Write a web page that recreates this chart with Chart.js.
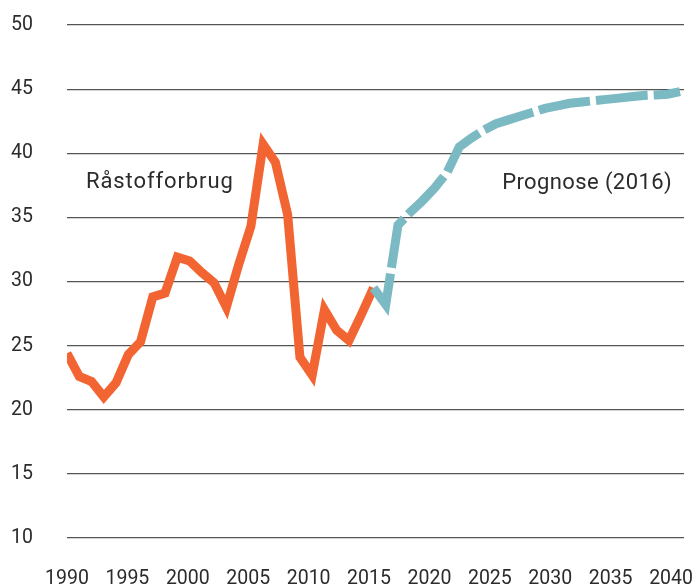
<!DOCTYPE html>
<html>
<head>
<meta charset="utf-8">
<script src="https://cdn.jsdelivr.net/npm/chart.js@4"></script>
<style>
  body { margin: 0; background: #fff; }
  canvas { display: block; }
</style>
</head>
<body>
<canvas id="grafik" width="696" height="586"></canvas>
<script>
// historisk forbrug 1990-2015 og prognose 2015-2040
const aarHistorik = [1990, 1991, 1992, 1993, 1994, 1995, 1996, 1997, 1998, 1999,
  2000, 2001, 2002, 2003, 2004, 2005, 2006, 2007, 2008, 2009,
  2010, 2011, 2012, 2013, 2014, 2015];
const forbrug = [24.4, 22.6, 22.2, 21.0, 22.1, 24.3, 25.3, 28.8, 29.1, 31.9,
  31.6, 30.7, 29.9, 28.0, 31.3, 34.3, 40.7, 39.3, 35.2, 24.1,
  22.7, 27.8, 26.2, 25.4, 27.4, 29.5];

const aarPrognose = [2015, 2016, 2017, 2018, 2019, 2020, 2021, 2022, 2023, 2024,
  2025, 2026, 2027, 2028, 2029, 2030, 2031, 2032, 2033, 2034,
  2035, 2036, 2037, 2038, 2039, 2040];
const prognose = [29.5, 28.2, 34.4, 35.4, 36.3, 37.3, 38.5, 40.5, 41.2, 41.8,
  42.3, 42.6, 42.9, 43.2, 43.5, 43.7, 43.9, 44.0, 44.1, 44.2,
  44.3, 44.4, 44.5, 44.55, 44.6, 44.8];

const yTicks = [10, 15, 20, 25, 30, 35, 40, 45, 50];
const xTicks = [1990, 1995, 2000, 2005, 2010, 2015, 2020, 2025, 2030, 2035, 2040];
const etiketter = ["Råstofforbrug", "Prognose (2016)"];

const tekstFarve = "#2b2b2b";
const fontNavn = "Roboto";

function punkter(aar, vaerdier) {
  return aar.map((a, i) => ({ x: a, y: vaerdier[i] }));
}

// tekster inde i grafen
const etiketPlugin = {
  id: "etiketter",
  afterDraw(chart) {
    const ctx = chart.ctx;
    const xs = chart.scales.xd;
    const ys = chart.scales.y;
    ctx.save();
    ctx.font = "22px " + fontNavn;
    ctx.fillStyle = tekstFarve;
    ctx.textBaseline = "alphabetic";
    ctx.letterSpacing = "0.9px";
    ctx.textAlign = "left";
    ctx.fillText(etiketter[0], xs.getPixelForValue(1991.55), ys.getPixelForValue(37.3));
    ctx.letterSpacing = "0.4px";
    ctx.textAlign = "right";
    ctx.fillText(etiketter[1], xs.getPixelForValue(2039.35), ys.getPixelForValue(37.2));
    ctx.restore();
  }
};

const config = {
  type: "line",
  data: {
    datasets: [
      {
        label: etiketter[0],
        data: punkter(aarHistorik, forbrug),
        xAxisID: "xd",
        borderColor: "#F26532",
        borderWidth: 9,
        pointRadius: 0,
        tension: 0,
        order: 2
      },
      {
        label: etiketter[1],
        data: punkter(aarPrognose, prognose),
        xAxisID: "xd",
        borderColor: "#7BBAC3",
        borderWidth: 9,
        borderDash: [52, 6],
        pointRadius: 0,
        tension: 0,
        order: 1
      }
    ]
  },
  options: {
    responsive: false,
    animation: false,
    layout: { padding: { left: 0, right: 12, top: 25, bottom: 0 } },
    plugins: { legend: { display: false }, tooltip: { enabled: false } },
    scales: {
      x: {
        type: "linear",
        position: "bottom",
        min: 1990,
        max: 2041.07,
        grid: { display: false, drawTicks: false },
        border: { display: false },
        afterBuildTicks: (s) => { s.ticks = xTicks.map(v => ({ value: v })); },
        afterFit: (s) => { s.height = 48; s.paddingLeft = 0; s.paddingRight = 0; },
        ticks: {
          padding: 29,
          maxRotation: 0,
          autoSkip: false,
          color: tekstFarve,
          font: { family: fontNavn, size: 19.5 },
          callback: (v) => String(v)
        }
      },
      xd: {
        type: "linear",
        position: "bottom",
        display: false,
        min: 1990,
        max: 2040.33,
        afterFit: (s) => { s.height = 0; s.paddingLeft = 0; s.paddingRight = 0; }
      },
      y: {
        min: 10,
        max: 50,
        afterBuildTicks: (s) => { s.ticks = yTicks.map(v => ({ value: v })); },
        afterFit: (s) => { s.width = 67; s.paddingTop = 0; s.paddingBottom = 0; },
        grid: { color: "#555", lineWidth: 1.2, drawTicks: false },
        border: { display: false },
        ticks: {
          padding: 34,
          color: tekstFarve,
          font: { family: fontNavn, size: 19.5 }
        }
      }
    }
  },
  plugins: [etiketPlugin]
};

new Chart(document.getElementById("grafik"), config);
</script>
</body>
</html>
